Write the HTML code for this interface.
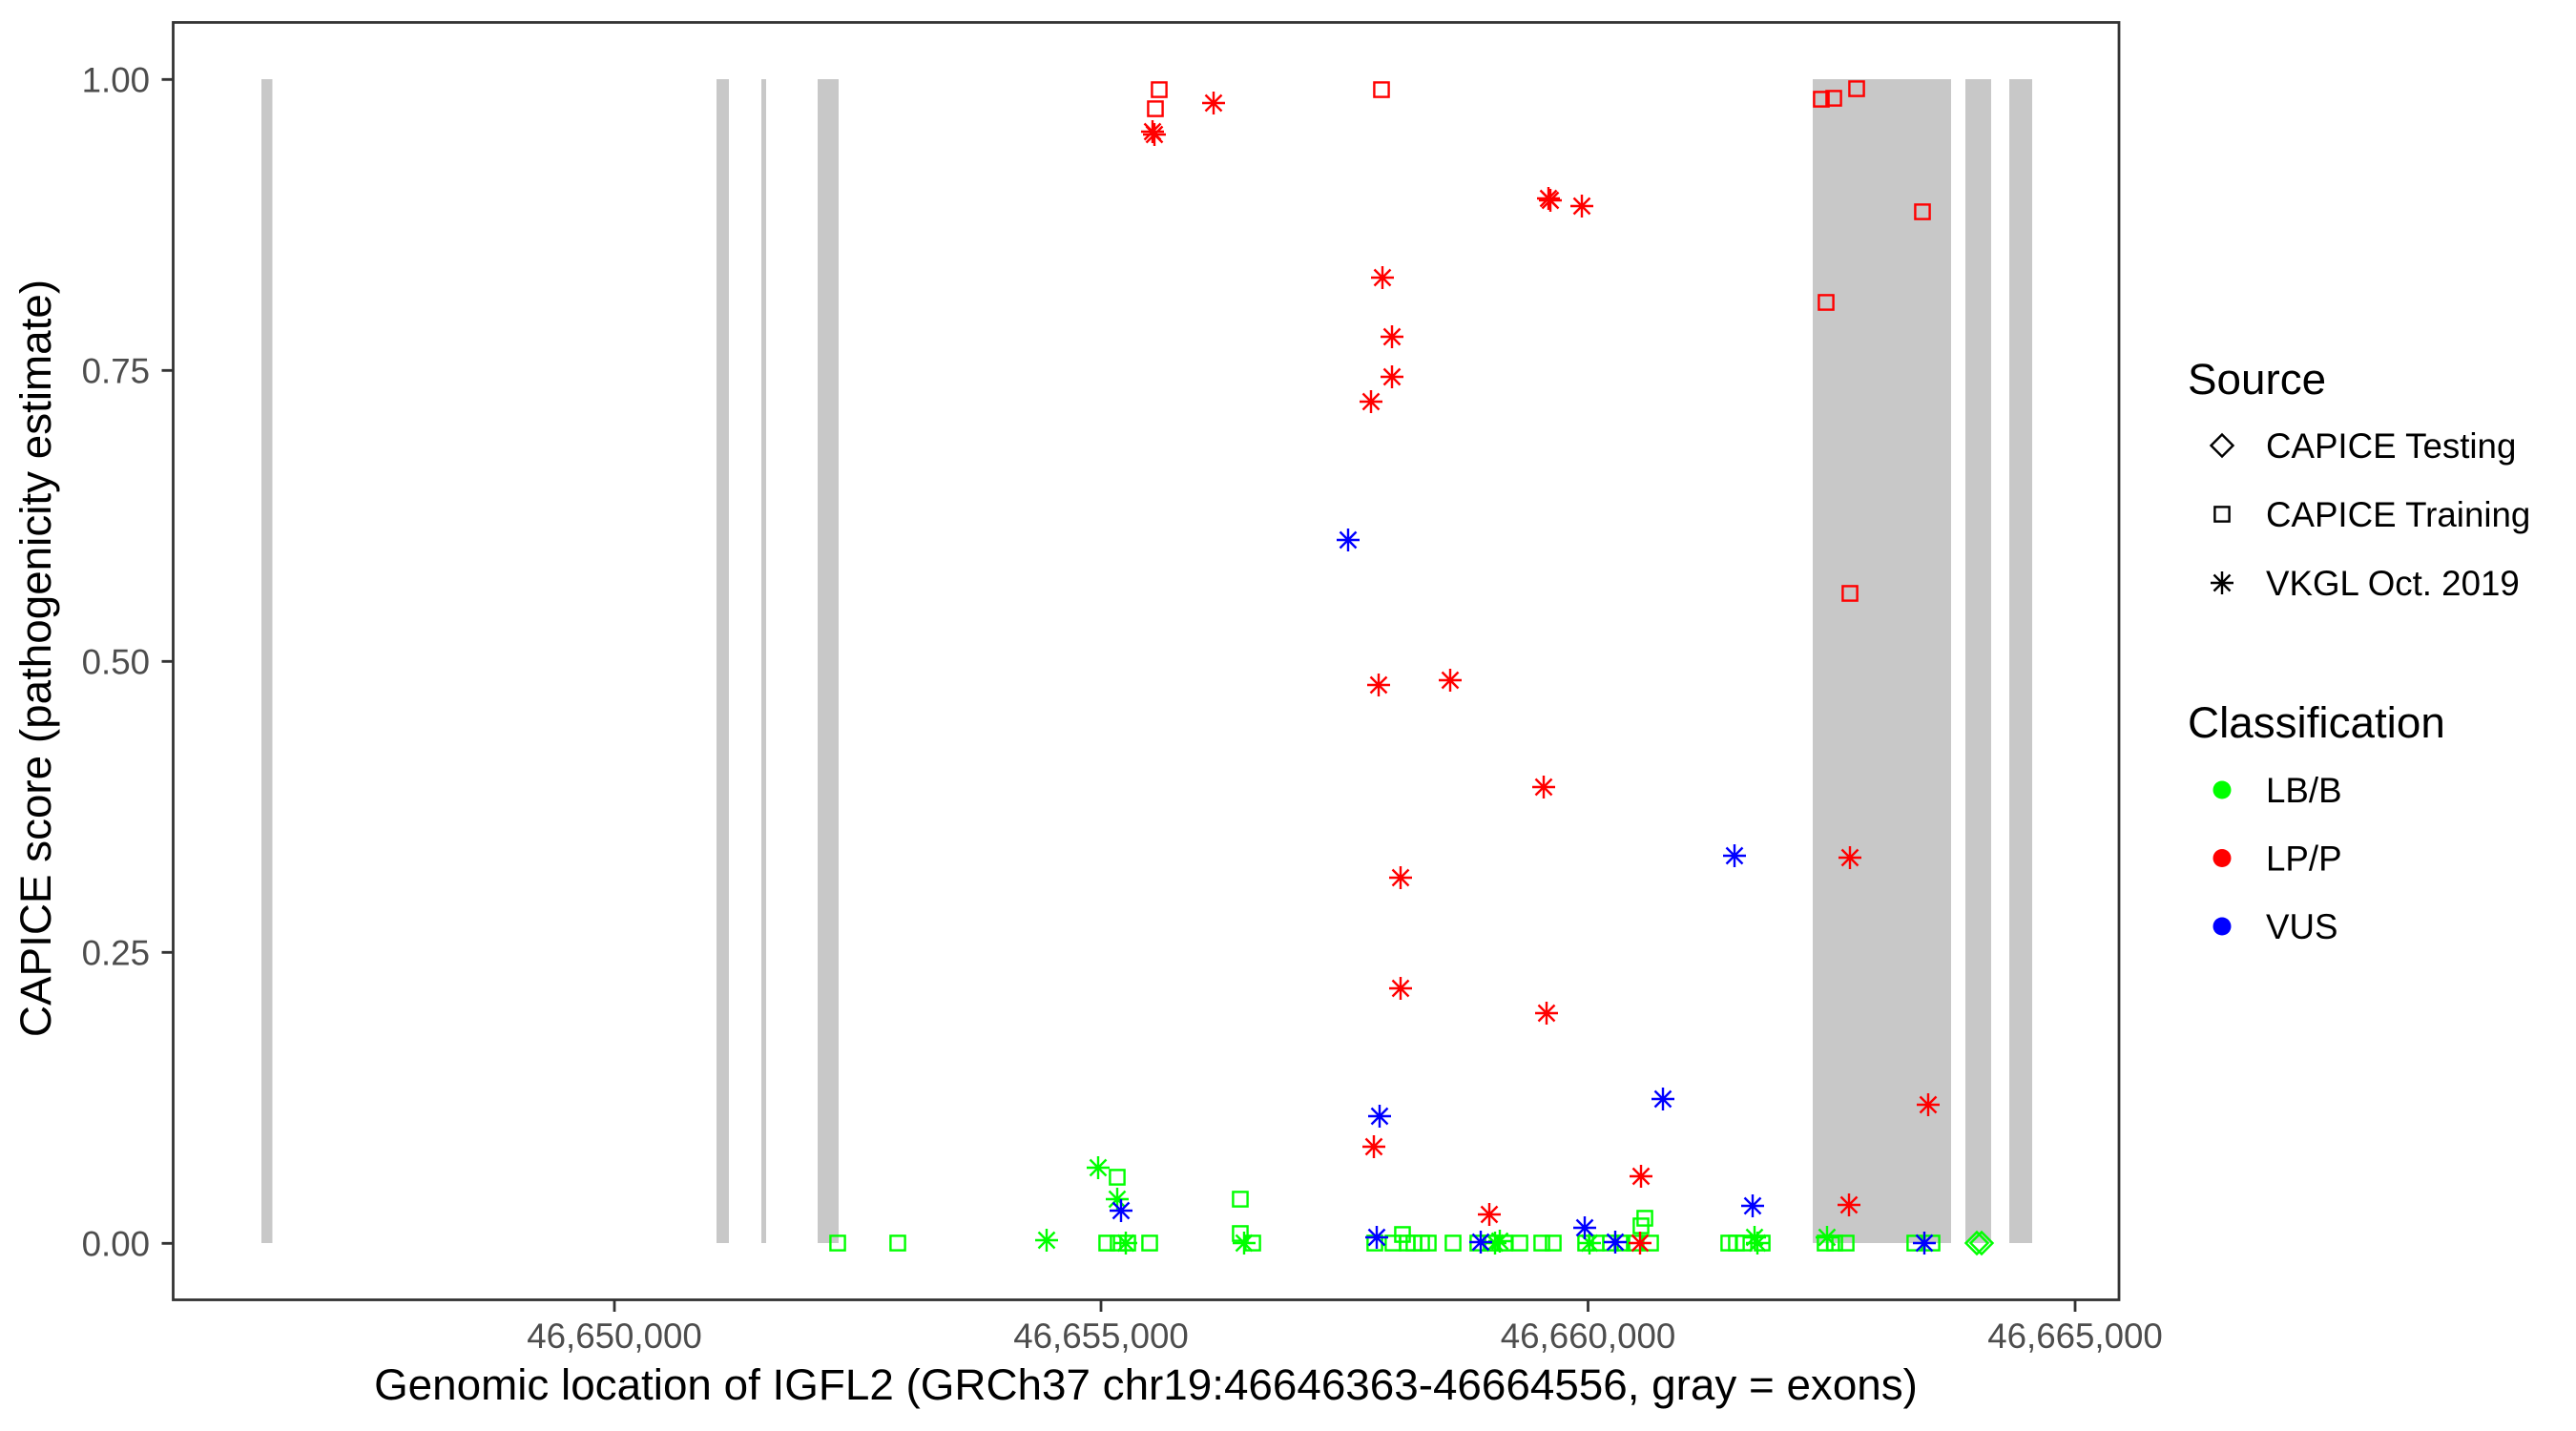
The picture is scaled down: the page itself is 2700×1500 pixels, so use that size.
<!DOCTYPE html>
<html>
<head>
<meta charset="utf-8">
<style>
html,body{margin:0;padding:0;background:#fff;}
svg{display:block;}
text{font-family:"Liberation Sans",Arial,Helvetica,sans-serif;}
.pts{fill:none;stroke:none;}
</style>
</head>
<body>
<svg width="2700" height="1500" viewBox="0 0 2700 1500" xmlns="http://www.w3.org/2000/svg">
<defs>
<marker id="sqG" markerUnits="userSpaceOnUse" viewBox="-15 -15 30 30" refX="0" refY="0" markerWidth="30" markerHeight="30" overflow="visible"><rect x="-7.6" y="-7.6" width="15.2" height="15.2" fill="none" stroke="#00ff00" stroke-width="2.4"/></marker>
<marker id="sqR" markerUnits="userSpaceOnUse" viewBox="-15 -15 30 30" refX="0" refY="0" markerWidth="30" markerHeight="30" overflow="visible"><rect x="-7.6" y="-7.6" width="15.2" height="15.2" fill="none" stroke="#ff0000" stroke-width="2.4"/></marker>
<marker id="diG" markerUnits="userSpaceOnUse" viewBox="-15 -15 30 30" refX="0" refY="0" markerWidth="30" markerHeight="30" overflow="visible"><path d="M0,-11.5L11.5,0L0,11.5L-11.5,0Z" fill="none" stroke="#00ff00" stroke-width="2.4"/></marker>
<marker id="asG" markerUnits="userSpaceOnUse" viewBox="-15 -15 30 30" refX="0" refY="0" markerWidth="30" markerHeight="30" overflow="visible"><path d="M0,-12V12M-12,0H12M-8.5,-8.5L8.5,8.5M-8.5,8.5L8.5,-8.5" fill="none" stroke="#00ff00" stroke-width="2.4"/></marker>
<marker id="asR" markerUnits="userSpaceOnUse" viewBox="-15 -15 30 30" refX="0" refY="0" markerWidth="30" markerHeight="30" overflow="visible"><path d="M0,-12V12M-12,0H12M-8.5,-8.5L8.5,8.5M-8.5,8.5L8.5,-8.5" fill="none" stroke="#ff0000" stroke-width="2.4"/></marker>
<marker id="asB" markerUnits="userSpaceOnUse" viewBox="-15 -15 30 30" refX="0" refY="0" markerWidth="30" markerHeight="30" overflow="visible"><path d="M0,-12V12M-12,0H12M-8.5,-8.5L8.5,8.5M-8.5,8.5L8.5,-8.5" fill="none" stroke="#0000ff" stroke-width="2.4"/></marker>
<path id="astK" d="M0,-12V12M-12,0H12M-8.5,-8.5L8.5,8.5M-8.5,8.5L8.5,-8.5" fill="none"/>
</defs>
<rect x="0" y="0" width="2700" height="1500" fill="#fff"/>
<path fill="#c8c8c8" d="M274,83h11.5v1220h-11.5zM751,83h13v1220h-13zM798,83h5v1220h-5zM857,83h22v1220h-22zM1900,83h145v1220h-145zM2060,83h27v1220h-27zM2106,83h24v1220h-24z"/>
<polyline class="pts" style="marker-start:url(#sqG);marker-mid:url(#sqG);marker-end:url(#sqG)" points="878,1303 941,1303 1171,1234 1160,1303 1172,1303 1182,1303 1205,1303 1300,1257 1300,1293 1313,1303 1470,1294 1441,1303 1460,1303 1475,1303 1482,1303 1490,1303 1497,1303 1523,1303 1549,1303 1563,1303 1577,1303 1593,1303 1616,1303 1628,1303 1662,1303 1673,1303 1688,1303 1700,1303 1713,1303 1730,1303 1724,1277 1720,1285 1812,1303 1820,1303 1828,1303 1847,1303 1913,1303 1923,1303 1935,1303 2007,1303 2025,1303"/>
<polyline class="pts" style="marker-start:url(#diG);marker-end:url(#diG)" points="2072,1303 2077,1303"/>
<polyline class="pts" style="marker-start:url(#sqR);marker-mid:url(#sqR);marker-end:url(#sqR)" points="1215,94 1211,114 1448,94 1909,104 1922,103 1946,93 2015,222 1914,317 1939,622"/>
<polyline class="pts" style="marker-start:url(#asB)" points="1301,1303"/>
<polyline class="pts" style="marker-start:url(#asG);marker-mid:url(#asG);marker-end:url(#asG)" points="1151,1224 1171,1257 1097,1300 1180,1303 1304,1303 1567,1303 1572,1301 1666,1303 1839,1297 1842,1303 1915,1297"/>
<polyline class="pts" style="marker-start:url(#asR);marker-mid:url(#asR);marker-end:url(#asR)" points="1208,138 1210,141 1272,108 1623,208 1625,210 1658,216 1449,291 1459,353 1459,395 1437,421 1445,718 1520,713 1618,825 1468,920 1468,1036 1621,1062 1939,899 2021,1158 1440,1202 1561,1273 1720,1233 1938,1263 1719,1303"/>
<polyline class="pts" style="marker-start:url(#asB);marker-mid:url(#asB);marker-end:url(#asB)" points="1413,566 1818,897 1446,1170 1743,1152 1837,1264 1175,1269 1443,1297 1552,1302 1661,1287 1693,1302 2017,1303"/>
<rect x="181.5" y="23.5" width="2039.5" height="1339" fill="none" stroke="#333333" stroke-width="2.8"/>
<path stroke="#333333" stroke-width="2.8" fill="none" d="M169.5,83.3H181.5M169.5,388.3H181.5M169.5,693.3H181.5M169.5,998.3H181.5M169.5,1303.3H181.5M644,1363V1375M1154,1363V1375M1664.5,1363V1375M2175,1363V1375"/>
<g fill="#4d4d4d" font-size="36.7" text-anchor="end">
<text x="157" y="96.5">1.00</text>
<text x="157" y="401.5">0.75</text>
<text x="157" y="706.5">0.50</text>
<text x="157" y="1011.5">0.25</text>
<text x="157" y="1316.5">0.00</text>
</g>
<g fill="#4d4d4d" font-size="36.7" text-anchor="middle">
<text x="644" y="1413">46,650,000</text>
<text x="1154" y="1413">46,655,000</text>
<text x="1664.5" y="1413">46,660,000</text>
<text x="2175" y="1413">46,665,000</text>
</g>
<text x="1201" y="1467" font-size="45.8" text-anchor="middle" fill="#000">Genomic location of IGFL2 (GRCh37 chr19:46646363-46664556, gray = exons)</text>
<text transform="translate(53,690) rotate(-90)" font-size="45.8" text-anchor="middle" fill="#000">CAPICE score (pathogenicity estimate)</text>
<text x="2293" y="413" font-size="45.8" fill="#000">Source</text>
<path d="M2329,455.5L2340.5,467L2329,478.5L2317.5,467Z" fill="none" stroke="#000" stroke-width="2.4"/>
<rect x="2321.4" y="531.4" width="15.2" height="15.2" fill="none" stroke="#000" stroke-width="2.4"/>
<use href="#astK" x="2329" y="611" stroke="#000" stroke-width="2.4"/>
<g font-size="36.7" fill="#000">
<text x="2375" y="480">CAPICE Testing</text>
<text x="2375" y="552">CAPICE Training</text>
<text x="2375" y="624">VKGL Oct. 2019</text>
</g>
<text x="2293" y="773" font-size="45.8" fill="#000">Classification</text>
<circle cx="2329" cy="828" r="9.5" fill="#00ff00"/>
<circle cx="2329" cy="899.5" r="9.5" fill="#ff0000"/>
<circle cx="2329" cy="971" r="9.5" fill="#0000ff"/>
<g font-size="36.7" fill="#000">
<text x="2375" y="841">LB/B</text>
<text x="2375" y="912.5">LP/P</text>
<text x="2375" y="984">VUS</text>
</g>
</svg>
</body>
</html>
